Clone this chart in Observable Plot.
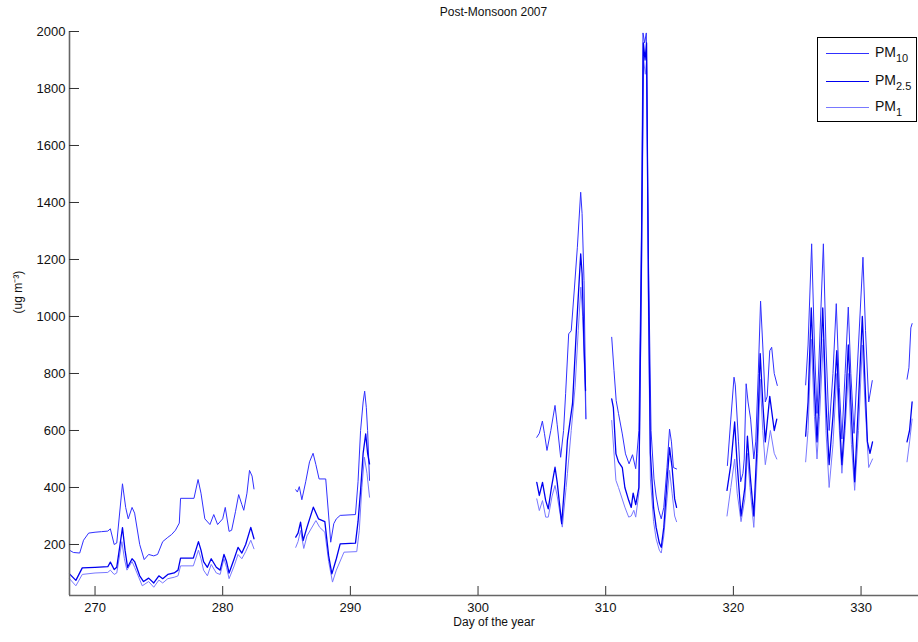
<!DOCTYPE html>
<html>
<head>
<meta charset="utf-8">
<script src="https://cdn.jsdelivr.net/npm/d3@7"></script>
<script src="https://cdn.jsdelivr.net/npm/@observablehq/plot@0.6"></script>
<style>
  body { margin: 0; background: #fff; font-family: "Liberation Sans", Arial, sans-serif; }
  #wrap { position: relative; width: 918px; height: 642px; overflow: hidden; }
  #title { height: 22px; line-height: 24px; font-size: 12px; color: #111; margin-left: 69px; width: 849px; text-align: center; }
  #legend { position: absolute; left: 817px; top: 37px; width: 98px; height: 83px; border: 1px solid #000; background: #fff; }
  .row { position: absolute; left: 0; width: 98px; height: 20px; }
  .sample { position: absolute; left: 8px; width: 43px; top: 10px; height: 0; }
  .lab { position: absolute; left: 57px; top: 1px; font-size: 14px; color: #111; line-height: 16px; }
  .lab sub { font-size: 11px; vertical-align: -5px; }
</style>
</head>
<body>
<div id="wrap">
  <div id="title">Post-Monsoon 2007</div>
  <div id="chart"></div>
  <div id="legend"></div>
</div>
<script>
// ---- Data; null marks a gap in the record ----
const seriesNames = ["PM10", "PM2.5", "PM1"];
const seriesLabels = ["PM<sub>10</sub>", "PM<sub>2.5</sub>", "PM<sub>1</sub>"];
const seriesColors = ["#3030ff", "#0000f0", "#7878ff"];
const seriesWidths = [1, 1.3, 1];

const pm10Days = [
  268.0,268.3,268.8,269.1,269.5,270.0,270.5,271.0,271.2,271.5,271.7,272.15,272.4,272.6,272.9,273.1,273.5,273.85,274.2,274.6,274.9,275.3,275.7,276.0,276.3,276.6,276.7,277.75,278.07,278.3,278.6,279.0,279.3,279.6,280.0,280.2,280.5,280.7,281.0,281.25,281.5,281.65,281.9,282.1,282.3,282.45,null,
  285.72,285.85,286.0,286.2,286.5,286.8,287.08,287.3,287.55,288.07,288.3,288.46,288.7,288.9,289.2,290.4,290.6,290.8,291.0,291.12,291.25,291.35,291.5,null,
  304.6,304.8,305.04,305.2,305.4,305.7,306.03,306.2,306.47,306.7,306.86,307.1,307.3,307.55,307.78,308.04,308.15,308.3,308.45,null,
  310.47,310.65,310.82,311.0,311.3,311.55,311.83,312.1,312.35,312.6,312.8,312.92,313.05,313.18,313.35,313.55,313.78,313.95,314.15,314.35,314.55,314.8,315.0,315.15,315.3,315.55,null,
  319.53,319.8,320.05,320.15,320.4,320.57,320.75,320.85,321.0,321.15,321.35,321.6,321.75,321.95,322.13,322.3,322.5,322.65,322.85,323.0,323.2,323.44,null,
  325.66,325.85,326.13,326.35,326.55,326.75,327.05,327.25,327.5,327.8,328.06,328.3,328.5,328.75,329.0,329.2,329.45,329.8,330.15,330.35,330.6,330.88,null,
  333.6,333.75,333.9,334.0
];
const pm10Values = [
  180,172,170,215,240,243,245,247,255,200,205,413,330,290,330,310,200,147,165,160,165,210,225,235,250,275,362,362,428,380,290,270,305,270,290,330,246,250,315,375,340,320,380,460,440,395,null,
  392,384,403,357,420,490,520,480,430,430,300,208,273,290,302,305,420,600,700,738,680,600,425,null,
  576,590,633,590,530,600,688,620,506,600,729,939,950,1100,1243,1436,1361,1126,641,null,
  927,810,705,660,588,518,483,515,466,600,1300,1995,1960,1995,1200,600,430,370,320,290,330,470,605,560,470,465,null,
  477,640,787,760,560,420,450,500,764,700,640,500,560,800,1054,900,700,720,880,892,800,758,null,
  760,900,1255,900,660,900,1255,900,600,800,1045,750,570,800,1033,800,590,900,1208,950,700,775,null,
  780,820,960,975
];

const pm25Days = [
  268.0,268.5,269.0,270.0,271.0,271.2,271.5,271.7,272.15,272.35,272.55,272.9,273.1,273.5,273.8,274.2,274.6,275.0,275.3,275.7,276.2,276.5,276.7,277.7,278.1,278.3,278.5,278.8,279.1,279.5,279.8,280.1,280.3,280.5,280.9,281.2,281.5,281.8,282.2,282.45,null,
  285.72,285.9,286.1,286.3,286.6,287.1,287.5,288.0,288.3,288.55,288.9,289.2,290.4,290.6,290.8,291.0,291.2,291.35,291.5,null,
  304.6,304.8,305.05,305.3,305.5,305.75,306.03,306.2,306.55,306.8,307.0,307.4,307.7,308.04,308.15,308.3,308.42,null,
  310.47,310.6,310.8,311.0,311.3,311.5,311.8,312.0,312.15,312.35,312.6,312.8,312.95,313.08,313.2,313.35,313.5,313.75,313.95,314.2,314.35,314.55,314.8,315.0,315.2,315.4,315.55,null,
  319.5,319.8,320.1,320.3,320.6,320.9,321.1,321.3,321.6,321.9,322.1,322.3,322.5,322.85,323.2,323.4,null,
  325.66,325.85,326.1,326.35,326.55,326.75,327.0,327.25,327.5,327.8,328.1,328.3,328.5,328.75,329.0,329.25,329.5,329.8,330.1,330.3,330.5,330.7,330.9,null,
  333.6,333.8,334.0
];
const pm25Values = [
  97,74,118,120,122,138,112,120,259,180,120,150,140,90,70,82,65,90,80,95,100,110,152,152,210,180,140,120,150,120,110,165,140,100,150,190,170,200,260,220,null,
  226,240,278,214,260,331,290,280,160,97,150,202,205,280,390,520,588,520,483,null,
  418,372,418,354,325,400,471,418,273,420,565,694,951,1220,1150,900,740,null,
  711,680,518,490,470,400,355,330,380,340,400,1200,1960,1900,1960,1100,520,330,260,205,190,260,420,540,470,360,330,null,
  390,480,630,480,300,400,580,450,300,600,870,700,560,720,600,640,null,
  580,700,1030,750,560,750,1030,700,480,650,880,650,480,650,900,650,420,700,1000,780,560,520,560,null,
  560,600,700
];

const pm1Days = [
  268.0,268.5,269.0,270.0,271.0,271.2,271.5,271.7,272.1,272.3,272.5,272.9,273.1,273.7,274.2,274.6,275.0,275.3,275.7,276.2,276.5,276.7,277.7,278.1,278.3,278.5,278.8,279.1,279.5,279.8,280.1,280.3,280.5,280.9,281.2,281.5,281.8,282.2,282.45,null,
  285.72,285.9,286.1,286.35,286.6,287.3,287.6,288.0,288.3,288.6,288.9,289.5,290.5,290.7,290.9,291.1,291.3,291.5,null,
  304.6,304.8,305.05,305.3,305.5,305.8,306.03,306.2,306.6,306.9,307.0,307.3,307.6,307.85,308.05,308.2,308.35,308.45,null,
  310.47,310.8,311.0,311.5,311.8,312.0,312.2,312.35,312.6,312.8,312.97,313.1,313.2,313.35,313.5,313.75,313.95,314.2,314.35,314.55,314.8,315.0,315.2,315.4,315.55,null,
  319.5,319.8,320.1,320.3,320.6,320.9,321.1,321.3,321.6,321.9,322.1,322.3,322.5,322.9,323.2,323.4,null,
  325.66,325.85,326.1,326.35,326.55,326.75,327.05,327.25,327.5,327.8,328.1,328.3,328.5,328.75,329.0,329.25,329.5,329.8,330.1,330.3,330.6,330.9,null,
  333.6,333.8,334.0
];
const pm1Values = [
  80,55,95,100,102,110,95,100,210,150,110,140,120,55,70,50,75,65,80,85,90,125,125,180,150,110,90,130,100,95,150,120,80,125,165,150,175,215,185,null,
  190,210,249,186,230,284,260,243,140,68,110,173,175,250,400,506,450,366,null,
  360,319,354,296,296,370,407,370,261,400,448,600,752,950,1103,1000,800,641,null,
  635,425,400,331,296,300,320,296,380,1100,1900,1850,1900,1000,430,280,220,180,170,230,360,460,380,300,280,null,
  300,400,500,380,280,360,520,400,260,520,780,600,480,600,520,500,null,
  490,600,920,650,500,650,920,600,400,550,800,600,450,600,800,550,390,600,900,700,470,500,null,
  490,560,640
];

const xTicks = [270, 280, 290, 300, 310, 320, 330];
const yTicks = [200, 400, 600, 800, 1000, 1200, 1400, 1600, 1800, 2000];
const xDomain = [268, 334.5];
const yDomain = [21, 2000];

// ---- Build tables ----
function rows(days, vals) {
  return days.map((d, i) => ({day: d, v: vals[i]}));
}
const tables = [rows(pm10Days, pm10Values), rows(pm25Days, pm25Values), rows(pm1Days, pm1Values)];

const chart = Plot.plot({
  width: 918,
  height: 620,
  marginLeft: 69,
  marginRight: 0,
  marginTop: 9,
  marginBottom: 47,
  style: {fontFamily: "'Liberation Sans', Arial, sans-serif", fontSize: "13px", background: "#fff", color: "#111", overflow: "visible"},
  x: {domain: xDomain},
  y: {domain: yDomain},
  marks: [
    // draw PM1 first, PM2.5 on top
    Plot.line(tables[2], {x: "day", y: "v", stroke: seriesColors[2], strokeWidth: seriesWidths[2]}),
    Plot.line(tables[0], {x: "day", y: "v", stroke: seriesColors[0], strokeWidth: seriesWidths[0]}),
    Plot.line(tables[1], {x: "day", y: "v", stroke: seriesColors[1], strokeWidth: seriesWidths[1]}),
    Plot.ruleX([xDomain[0]], {stroke: "#666", strokeWidth: 1.6}),
    Plot.ruleY([yDomain[0]], {stroke: "#666", strokeWidth: 1.6}),
    Plot.tickX(xTicks, {x: d => d, insetTop: 555, stroke: "#333"}),
    Plot.tickY(yTicks, {y: d => d, insetRight: 839, stroke: "#333"}),
    Plot.axisX({ticks: xTicks, tickSize: 0, tickPadding: 7, label: null, tickFormat: d => String(d)}),
    Plot.axisY({ticks: yTicks, tickSize: 0, tickPadding: 4, label: null, tickFormat: d => String(d)}),
    Plot.text(["Day of the year"], {frameAnchor: "bottom", dy: 30, text: d => d, fontSize: 12}),
    Plot.text(["(ug m\u207B\u00B3)"], {frameAnchor: "left", dx: -51, rotate: -90, text: d => d, fontSize: 12})
  ]
});
document.getElementById("chart").appendChild(chart);

// ---- Legend ----
const legend = document.getElementById("legend");
const rowTops = [5, 33, 59];
seriesNames.forEach((name, i) => {
  const r = document.createElement("div");
  r.className = "row";
  r.style.top = rowTops[i] + "px";
  r.innerHTML = `<div class="sample" style="border-top:${seriesWidths[i] + 0.3}px solid ${seriesColors[i]}"></div><div class="lab">${seriesLabels[i]}</div>`;
  legend.appendChild(r);
});
</script>
</body>
</html>
